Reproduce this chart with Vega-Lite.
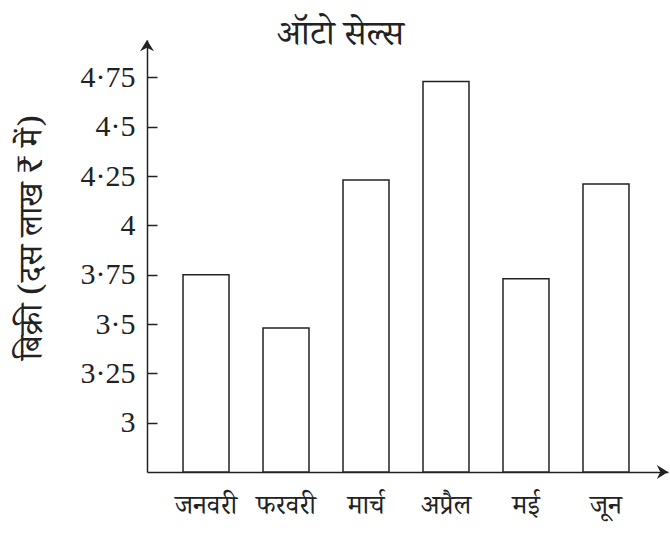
{
  "$schema": "https://vega.github.io/schema/vega-lite/v6.json",
  "width": 521,
  "height": 432,
  "autosize": "none",
  "padding": {"left": 147, "top": 40, "right": 2, "bottom": 65},
  "background": "white",
  "title": {
    "text": "ऑटो सेल्स",
    "font": "Noto Serif Devanagari, Noto Sans Devanagari, Noto Sans, sans-serif",
    "fontSize": 35,
    "fontWeight": "normal",
    "color": "#222",
    "anchor": "middle",
    "dx": -67,
    "dy": 32,
    "baseline": "middle",
    "offset": 3
  },
  "config": {"view": {"stroke": null}, "axis": {"grid": false}},
  "encoding": {
    "y": {
      "field": "sales",
      "type": "quantitative",
      "scale": {"domain": [2.75, 4.94], "zero": false, "nice": false},
      "axis": {
        "values": [3, 3.25, 3.5, 3.75, 4, 4.25, 4.5, 4.75],
        "labelExpr": "replace(toString(datum.value), '.', '·')",
        "labelFont": "Liberation Serif",
        "labelFontSize": 30,
        "labelColor": "#222",
        "tickSize": -10,
        "tickColor": "#222",
        "tickWidth": 1.5,
        "domainColor": "#222",
        "domainWidth": 1.5,
        "labelPadding": 22,
        "title": "बिक्री (दस लाख ₹ में)",
        "titleFont": "Noto Serif Devanagari, Noto Sans Devanagari, Noto Sans, sans-serif",
        "titleFontSize": 33,
        "titleFontWeight": "normal",
        "titleColor": "#222",
        "titleX": -116,
        "titleY": 197,
        "titleAngle": -90,
        "titleAlign": "center",
        "titleBaseline": "middle"
      }
    }
  },
  "layer": [
    {
      "data": {
        "values": [
          {"month": "जनवरी", "sales": 3.75},
          {"month": "फरवरी", "sales": 3.48},
          {"month": "मार्च", "sales": 4.23},
          {"month": "अप्रैल", "sales": 4.73},
          {"month": "मई", "sales": 3.73},
          {"month": "जून", "sales": 4.21}
        ]
      },
      "mark": {"type": "bar", "fill": "white", "stroke": "#222", "strokeWidth": 1.5},
      "encoding": {
        "x": {
          "field": "month",
          "type": "nominal",
          "sort": null,
          "scale": {"paddingInner": 0.425, "paddingOuter": 0.469, "align": 0.48},
          "axis": {
            "title": null,
            "ticks": false,
            "labelAngle": 0,
            "labelFont": "Noto Serif Devanagari, Noto Sans Devanagari, Noto Sans, sans-serif",
            "labelFontSize": 27,
            "labelColor": "#222",
            "labelPadding": 20,
            "domainColor": "#222",
            "domainWidth": 1.5
          }
        },
        "y2": {"datum": 2.75}
      }
    },
    {
      "data": {
        "values": [
          {"pos": 0, "sales": 4.94, "dir": "up"},
          {"pos": 1, "sales": 2.75, "dir": "right"}
        ]
      },
      "mark": {"type": "point", "filled": true, "color": "#222", "size": 196, "opacity": 1},
      "encoding": {
        "x": {
          "field": "pos",
          "type": "quantitative",
          "scale": {"domain": [0, 1], "nice": false, "zero": false},
          "axis": null
        },
        "shape": {
          "field": "dir",
          "type": "nominal",
          "scale": {
            "domain": ["up", "right"],
            "range": ["M 0 0 L 1 1.6 L 0 1.1 L -1 1.6 Z", "M 0 0 L -1.6 -1 L -1.1 0 L -1.6 1 Z"]
          },
          "legend": null
        }
      }
    }
  ],
  "resolve": {"scale": {"x": "independent"}, "axis": {"x": "independent"}}
}
